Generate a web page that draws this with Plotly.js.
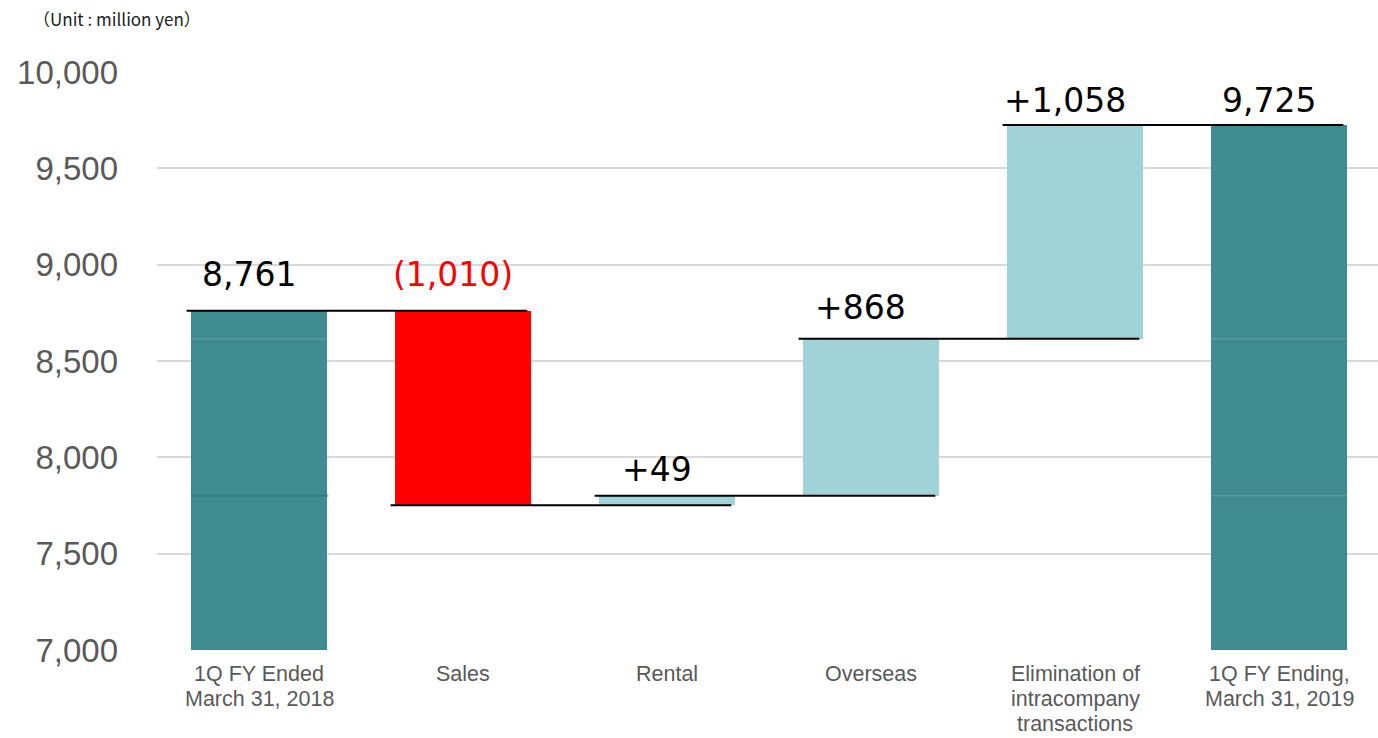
<!DOCTYPE html>
<html>
<head>
<meta charset="utf-8">
<script src="https://cdn.plot.ly/plotly-3.0.1.min.js"></script>
<style>html,body{margin:0;padding:0;background:#fff;}#chart{width:1378px;height:738px;}</style>
</head>
<body>
<div id="chart"></div>
<script>
// ---- data ----
const categories = [
  "1Q FY Ended<br>March 31, 2018",
  "Sales",
  "Rental",
  "Overseas",
  "Elimination of<br>intracompany<br>transactions",
  "1Q FY Ending,<br>March 31, 2019"
];
const barBase = [7000, 7751, 7751, 7800, 8615, 7000];
const barTop  = [8761, 8761, 7800, 8615, 9725, 9725];
const valueLabels = ["8,761", "(1,010)", "+49", "+868", "+1,058", "9,725"];
const barKind = ["total", "down", "up", "up", "up", "total"];
const runLevels = [8761, 7751, 7800, 8615, 9725];
const yTicks = [7000, 7500, 8000, 8500, 9000, 9500, 10000];
const yTickText = ["7,000", "7,500", "8,000", "8,500", "9,000", "9,500", "10,000"];

// ---- styles ----
const colorMap = {total: "#3E8B90", down: "#FF0000", up: "#A0D3D7"};
const labelColorMap = {total: "#000000", down: "#FF0000", up: "#000000"};
const labelLift = [15, 15, 5, 10, 3, 3];
const idx = categories.map((_, i) => i);

const traces = [];
traces.push({
  type: "bar",
  x: idx,
  base: barBase,
  y: barTop.map((t, i) => t - barBase[i]),
  width: 0.667,
  marker: {color: barKind.map(k => colorMap[k]), line: {width: 0}},
  hoverinfo: "skip",
  showlegend: false
});

// faint segment seams inside the total bars
const seams = [[0, runLevels[3]], [5, runLevels[3]], [5, runLevels[2]]];
seams.forEach(([i, lv]) => {
  traces.push({
    type: "scatter", mode: "lines",
    x: [i - 0.333, i + 0.333], y: [lv, lv],
    line: {color: "rgba(255,255,255,0.2)", width: 1},
    hoverinfo: "skip", showlegend: false
  });
});
traces.push({
  type: "scatter", mode: "lines",
  x: [0 - 0.333, 0 + 0.34], y: [runLevels[2], runLevels[2]],
  line: {color: "rgba(45,120,125,0.5)", width: 3},
  hoverinfo: "skip", showlegend: false
});

// connector lines
runLevels.forEach((lv, i) => {
  traces.push({
    type: "scatter", mode: "lines",
    x: [i - 0.355, i + 1 + 0.315], y: [lv, lv],
    line: {color: "#000000", width: 2},
    hoverinfo: "skip", showlegend: false
  });
});

const annotations = valueLabels.map((t, i) => ({
  x: i - 0.05, y: barTop[i], xref: "x", yref: "y",
  text: t, showarrow: false, xanchor: "center", yanchor: "bottom",
  yshift: labelLift[i],
  font: {family: "DejaVu Sans", size: 33, color: labelColorMap[barKind[i]]}
}));

// category labels, one annotation per line for tight line spacing
categories.forEach((c, i) => {
  c.split("<br>").forEach((line, k) => {
    annotations.push({
      x: i, y: 0, xref: "x", yref: "paper",
      text: line, showarrow: false, xanchor: "center", yanchor: "middle",
      yshift: -24 - 25 * k, borderpad: 0,
      font: {family: "Liberation Sans, Arial", size: 21.5, color: "#595959"}
    });
  });
});

annotations.push({
  xref: "paper", yref: "paper", x: -0.103, y: 1.093,
  xanchor: "left", yanchor: "middle", showarrow: false,
  text: "（Unit : million yen）",
  font: {family: "Noto Sans CJK JP", size: 17, color: "#222222"}
});

const layout = {
  width: 1378, height: 738,
  margin: {l: 157, r: 0, t: 72, b: 88, pad: 0},
  paper_bgcolor: "#ffffff", plot_bgcolor: "#ffffff",
  showlegend: false,
  bargap: 0,
  xaxis: {
    range: [-0.5, 5.485],
    tickmode: "array", tickvals: idx, ticktext: idx.map(() => ""),
    showgrid: false, zeroline: false, showline: false, ticks: "",
    fixedrange: true
  },
  yaxis: {
    range: [7000, 10000],
    tickmode: "array", tickvals: yTicks, ticktext: yTickText,
    showgrid: true, gridcolor: "#d9d9d9", gridwidth: 2,
    zeroline: false, showline: false, ticks: "",
    ticklabelstandoff: 38,
    tickfont: {family: "Liberation Sans, Arial", size: 33, color: "#595959"},
    fixedrange: true
  },
  annotations: annotations
};

Plotly.newPlot("chart", traces, layout, {displayModeBar: false, staticPlot: true});
</script>
</body>
</html>
